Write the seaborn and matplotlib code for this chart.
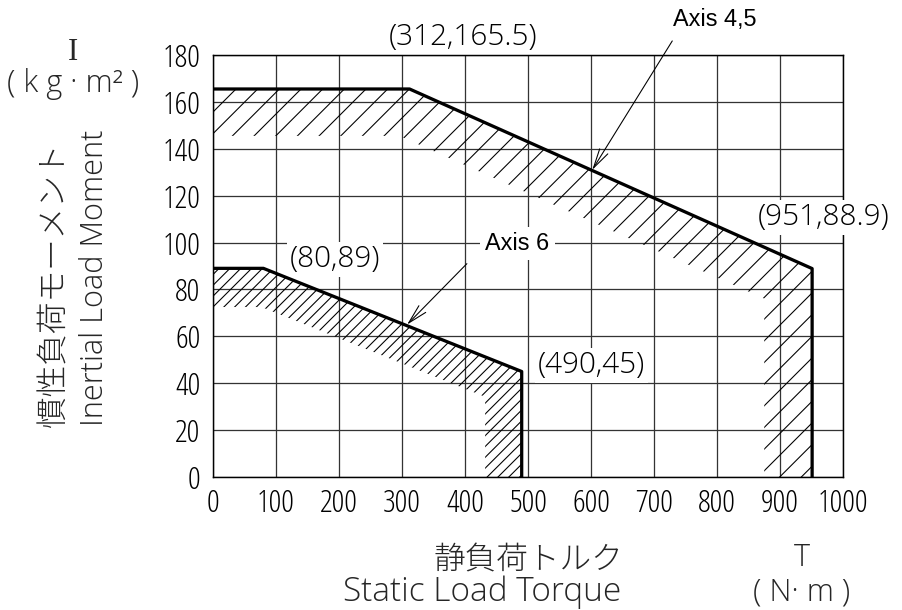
import matplotlib
matplotlib.use("Agg")
import matplotlib.pyplot as plt
from matplotlib.font_manager import FontProperties
import seaborn as sns
import pandas as pd

# ---------------- data ----------------
axis45_torque = [0, 312, 951, 951]
axis45_inertia = [165.5, 165.5, 88.9, 0]
axis45_inner_torque = [875, 875, 296, 0]
axis45_inner_inertia = [0, 76.1, 145.5, 145.5]

axis6_torque = [0, 80, 490, 490]
axis6_inertia = [89, 89, 45, 0]
axis6_inner_torque = [432, 432, 77, 0]
axis6_inner_inertia = [0, 34.2, 72.5, 72.5]

x_ticks = [0, 100, 200, 300, 400, 500, 600, 700, 800, 900, 1000]
y_ticks = [0, 20, 40, 60, 80, 100, 120, 140, 160, 180]

point_labels = ["(312,165.5)", "(951,88.9)", "(80,89)", "(490,45)"]
point_label_x = [397, 970, 194, 601]
point_label_y = [187.7, 110.6, 92.8, 47.5]

series_names = ["Axis 4,5", "Axis 6"]
series_text_x = [797, 483]
series_text_y = [195, 99.6]
arrow_start_x = [729, 403]
arrow_start_y = [186, 91]
arrow_tip_x = [602, 308]
arrow_tip_y = [131, 65]

# ---------------- style ----------------
DPI = 130
sns.set_theme(style="white")
plt.rcParams["font.family"] = ["Open Sans", "DejaVu Sans"]
plt.rcParams["hatch.linewidth"] = 0.6
plt.rcParams["hatch.color"] = "black"

FAM = ["Open Sans", "DejaVu Sans"]
fp_cond = FontProperties(family=FAM, weight=300, stretch="condensed", size=17.5)
fp_light = FontProperties(family=FAM, weight=300, stretch="normal", size=16.5)
fp_title = FontProperties(family=FAM, weight=300, stretch="normal", size=17)
fp_title_x = FontProperties(family=FAM, weight=300, stretch="normal", size=18.5)
fp_serif = FontProperties(family=["Liberation Serif", "DejaVu Serif"], size=17)
fp_cjk = FontProperties(family=["Noto Sans CJK JP", "DejaVu Sans"], weight=300, size=17.5)
fp_arial = FontProperties(family=["Liberation Sans", "DejaVu Sans"], size=13)

fig = plt.figure(figsize=(902 / DPI, 610 / DPI), dpi=DPI)
ax = fig.add_axes([213 / 902, 1 - 477 / 610, (843 - 213) / 902, (477 - 55) / 610])

df = pd.concat([
    pd.DataFrame({"T": axis45_torque, "I": axis45_inertia, "s": "Axis 4,5"}),
    pd.DataFrame({"T": axis6_torque, "I": axis6_inertia, "s": "Axis 6"}),
])

# hatched bands along the inside of each limit line
band45_x = axis45_torque + axis45_inner_torque
band45_y = axis45_inertia + axis45_inner_inertia
band6_x = axis6_torque + axis6_inner_torque
band6_y = axis6_inertia + axis6_inner_inertia
ax.fill(band45_x, band45_y, facecolor="none", edgecolor="black", lw=0, hatch="//", zorder=2)
ax.fill(band6_x, band6_y, facecolor="none", edgecolor="black", lw=0, hatch="////", zorder=2)

for name in series_names:
    sns.lineplot(data=df[df["s"] == name], x="T", y="I", sort=False, estimator=None,
                 color="black", lw=1.8, ax=ax, zorder=4)

ax.set_xlim(0, 1000)
ax.set_ylim(0, 180)
ax.set_xticks(x_ticks)
ax.set_yticks(y_ticks)
ax.grid(True, color="0.2", lw=0.7, zorder=0)
ax.set_axisbelow(True)
for sp in ax.spines.values():
    sp.set_color("black")
    sp.set_linewidth(0.8)
ax.tick_params(axis="x", length=0, colors="black", pad=6)
ax.tick_params(axis="y", length=0, colors="black", pad=7)
for lab in ax.get_xticklabels() + ax.get_yticklabels():
    lab.set_fontproperties(fp_cond)
ax.set_xlabel("")
ax.set_ylabel("")

for t, x, y in zip(point_labels, point_label_x, point_label_y):
    ax.text(x, y, t, ha="center", va="center", clip_on=False, zorder=3, color="black",
            fontproperties=fp_light,
            bbox=dict(facecolor="white", edgecolor="none", pad=1.5))

for name, tx, ty, sx, sy, px, py in zip(series_names, series_text_x, series_text_y,
                                        arrow_start_x, arrow_start_y, arrow_tip_x, arrow_tip_y):
    ax.text(tx, ty, name, ha="center", va="center", fontproperties=fp_arial, color="black",
            clip_on=False, zorder=3,
            bbox=dict(facecolor="white", edgecolor="none", pad=3))
    ax.annotate("", xy=(px, py), xytext=(sx, sy), annotation_clip=False,
                arrowprops=dict(arrowstyle="->,head_length=0.9,head_width=0.22",
                                color="black", lw=0.6, shrinkA=0, shrinkB=0), zorder=5)

# axis titles
fig.text(73 / 902, 1 - 52 / 610, "I", ha="center", va="center", fontproperties=fp_serif)
fig.text(73 / 902, 1 - 84 / 610, "( k g · m² )", ha="center", va="center", fontproperties=fp_title)
fig.text(55 / 902, 1 - 285 / 610, "慣性負荷モーメント", rotation=90, ha="center", va="center",
         fontproperties=fp_cjk)
fig.text(95 / 902, 1 - 278 / 610, "Inertial Load Moment", rotation=90, ha="center", va="center",
         fontproperties=fp_title)
fig.text(528 / 902, 1 - 560 / 610, "静負荷トルク", ha="center", va="center", fontproperties=fp_cjk)
fig.text(482 / 902, 1 - 592 / 610, "Static Load Torque", ha="center", va="center", fontproperties=fp_title_x)
fig.text(802 / 902, 1 - 558 / 610, "T", ha="center", va="center", fontproperties=fp_title)
fig.text(802 / 902, 1 - 592 / 610, "( N· m )", ha="center", va="center", fontproperties=fp_title)

fig.savefig("out.png", dpi=DPI)
